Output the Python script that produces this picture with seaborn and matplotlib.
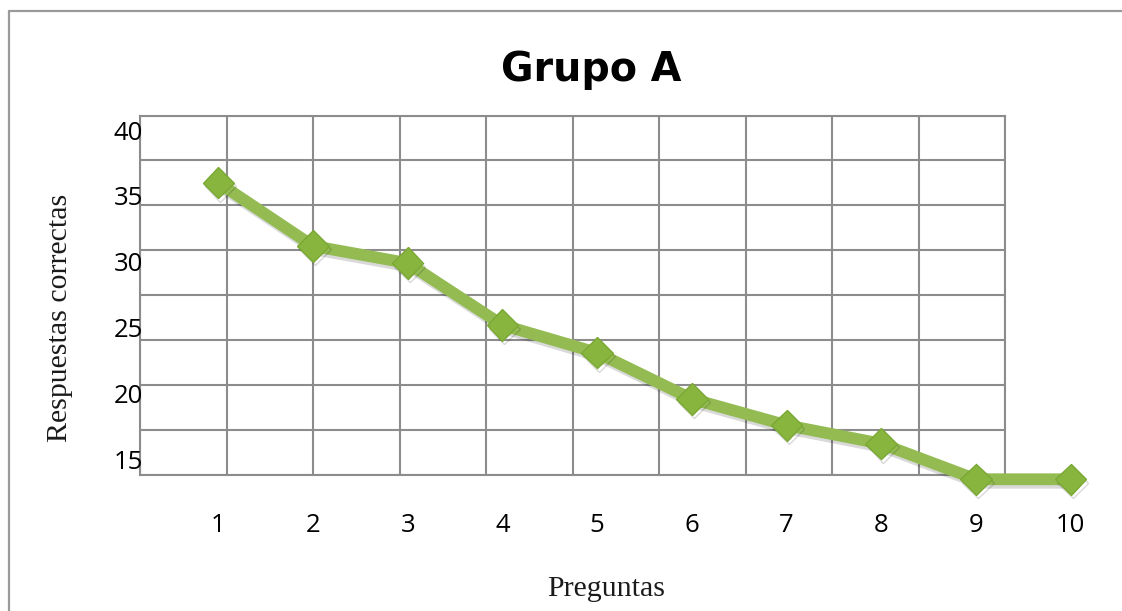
import matplotlib
matplotlib.use("Agg")
import matplotlib.pyplot as plt
import matplotlib.patheffects as pe
from matplotlib.lines import Line2D
import seaborn as sns
import pandas as pd

# Data
preguntas = [1, 2, 3, 4, 5, 6, 7, 8, 9, 10]
respuestas = [36.0, 31.2, 29.9, 25.2, 23.1, 19.6, 17.6, 16.2, 13.5, 13.5]
y_ticks = [40, 35, 30, 25, 20, 15]
titulo = "Grupo A"
x_titulo = "Preguntas"
y_titulo = "Respuestas correctas"

df = pd.DataFrame({"Preguntas": preguntas, "Respuestas": respuestas})

sns.set_style("white")
plt.rcParams["font.family"] = ["Open Sans", "DejaVu Sans"]

W, H = 1122, 611
fig = plt.figure(figsize=(W / 100, H / 100), dpi=100)


def fx(px):
    return px / W


def fy(py):
    return 1 - py / H


# Outer frame (left and top edges)
frame_col = "#9a9a9a"
fig.add_artist(Line2D([fx(8.5), fx(8.5)], [fy(10.5), 0], transform=fig.transFigure,
                      color=frame_col, lw=1.6))
fig.add_artist(Line2D([fx(8.5), 1], [fy(10.5), fy(10.5)], transform=fig.transFigure,
                      color=frame_col, lw=1.6))

# Background grid panel: 10 columns x 8 rows
grid_col = "#8c8c8c"
gl, gr, gt, gb = 140, 1005, 115.5, 475
ax_grid = fig.add_axes([fx(gl), fy(gb), fx(gr - gl), (gb - gt) / H])
ax_grid.set_xlim(0, 10)
ax_grid.set_ylim(0, 8)
ax_grid.set_xticks(range(11))
ax_grid.set_yticks(range(9))
ax_grid.grid(True, color=grid_col, lw=1.5)
ax_grid.tick_params(length=0, labelbottom=False, labelleft=False)
for s in ax_grid.spines.values():
    s.set_color(grid_col)
    s.set_linewidth(1.5)

# Data axes on top of the grid
dl, dr = 140, 1100
ax = fig.add_axes([fx(dl), fy(gb), fx(dr - dl), (gb - gt) / H])
ax.patch.set_alpha(0)
step = 94.7
x0 = 1 - (218.3 - dl) / step
x1 = 1 + (dr - 218.3) / step
ax.set_xlim(x0, x1)
scale = 13.18
ax.set_ylim(40 - (gb - 130) / scale, 40 + (130 - gt) / scale)

sns.lineplot(data=df, x="Preguntas", y="Respuestas", ax=ax, color="#93bb52",
             lw=8.5, marker="D", markersize=16, markerfacecolor="#88b53e",
             markeredgecolor="#7aa834", markeredgewidth=1, clip_on=False,
             path_effects=[pe.SimpleLineShadow(offset=(1.5, -2.5), shadow_color="#000000",
                                               alpha=0.15), pe.Normal()])

for s in ax.spines.values():
    s.set_visible(False)
ax.set_xticks(preguntas)
ax.set_xticklabels([str(p) for p in preguntas], fontsize=18.5, color="#000000")
ax.set_yticks(y_ticks)
ax.set_yticklabels([str(v) for v in y_ticks], fontsize=18.5, color="#000000")
ax.tick_params(axis="x", length=0, pad=27)
ax.tick_params(axis="y", length=0, pad=-2)
ax.grid(False)

ax.set_xlabel(x_titulo, family=["Liberation Serif"], fontsize=21.5, color="#1a1a1a")
ax.xaxis.set_label_coords(fx(606), fy(589), transform=fig.transFigure)
ax.xaxis.label.set_va("center")
ax.set_ylabel(y_titulo, family=["Liberation Serif"], fontsize=21.5, color="#1a1a1a")
ax.yaxis.set_label_coords(fx(60), fy(318), transform=fig.transFigure)
ax.yaxis.label.set_va("center")

fig.suptitle(titulo, x=fx(591), y=fy(70), va="center", ha="center",
             fontsize=28.5, fontweight="bold", color="#000000", family=["DejaVu Sans"])

fig.savefig("out.png", dpi=100)
